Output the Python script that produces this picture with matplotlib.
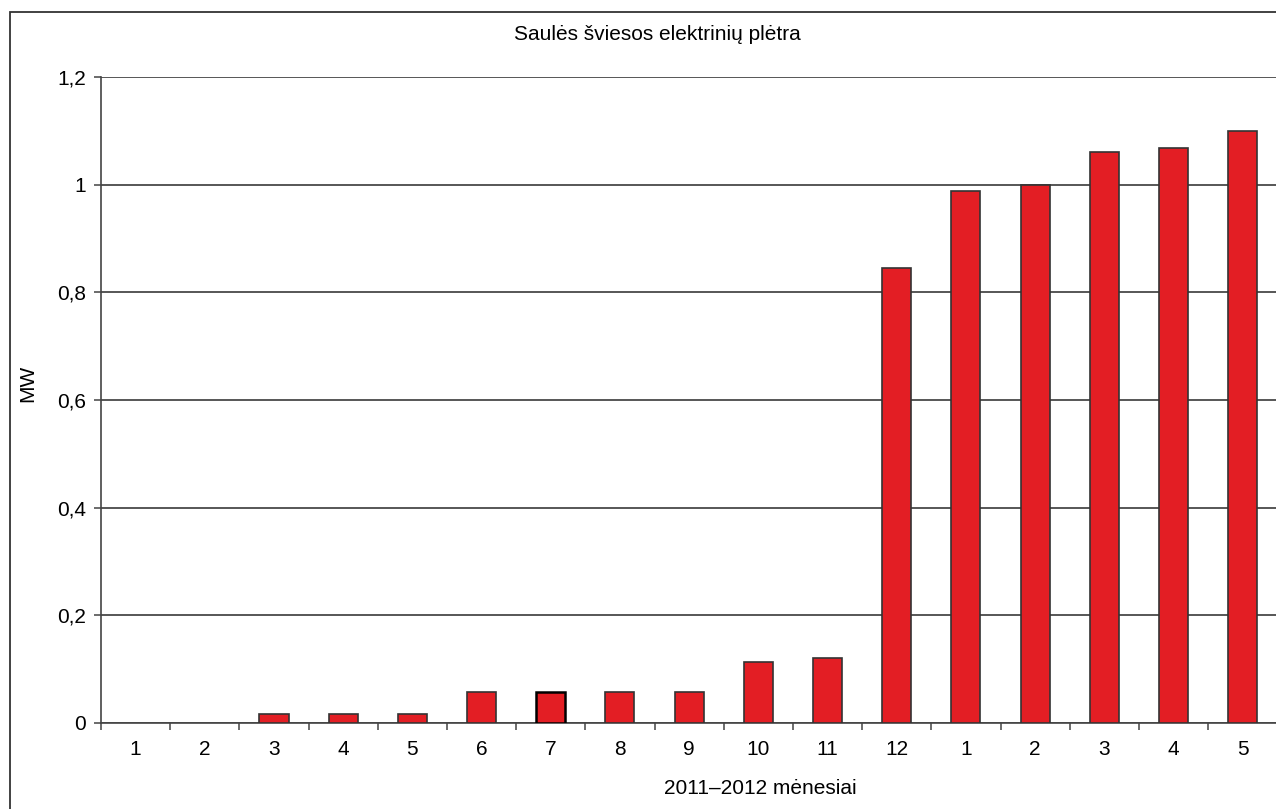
import matplotlib.pyplot as plt
from matplotlib.patches import Rectangle
from matplotlib.ticker import FuncFormatter
import numpy as np

plt.rcParams["font.family"] = ["Liberation Sans", "DejaVu Sans"]

months = ["1", "2", "3", "4", "5", "6", "7", "8", "9", "10", "11", "12",
          "1", "2", "3", "4", "5"]
capacity = [0.0, 0.0, 0.017, 0.017, 0.017, 0.057, 0.057, 0.057, 0.057,
            0.113, 0.120, 0.845, 0.989, 1.0, 1.060, 1.068, 1.100]

W, H = 1276, 809
fig = plt.figure(figsize=(W / 100, H / 100), dpi=100)

# outer frame, runs off the right and bottom edge
fig.patches.append(Rectangle((10 / W, -0.05), 1.2, 1 - 12 / H + 0.05,
                             transform=fig.transFigure, fill=False,
                             edgecolor="#333333", linewidth=1.3))

ax = fig.add_axes([101 / W, 1 - 723 / H, 1 - 101 / W + 0.001, (723 - 77) / H])

x = np.arange(len(months))
bars = ax.bar(x, capacity, width=0.42, color="#e31e24",
              edgecolor="#333333", linewidth=1.2, zorder=3)
for b, v in zip(bars, capacity):
    if v == 0:
        b.set_linewidth(0)
bars[6].set_edgecolor("black")
bars[6].set_linewidth(1.8)

ax.set_xlim(-0.5, len(months) - 0.5)
ax.set_ylim(0, 1.2)
ax.set_yticks(np.arange(0, 1.21, 0.2))
ax.yaxis.set_major_formatter(FuncFormatter(
    lambda v, p: "0" if abs(v) < 1e-9 else ("1" if abs(v - 1) < 1e-9 else f"{v:.1f}".replace(".", ","))))
ax.grid(axis="y", color="#3a3a3a", linewidth=1.2, zorder=0)

ax.set_xticks(x)
ax.set_xticklabels(months)
ax.set_xticks(np.arange(-0.5, len(months), 1), minor=True)
ax.tick_params(axis="x", which="major", length=0, pad=12, labelsize=15)
ax.tick_params(axis="x", which="minor", length=5, width=1.1, color="#444444")
ax.tick_params(axis="y", length=5, width=1.1, color="#444444", pad=6,
               labelsize=15)

for s in ["top", "right"]:
    ax.spines[s].set_visible(False)
for s in ["left", "bottom"]:
    ax.spines[s].set_color("#444444")
    ax.spines[s].set_linewidth(1.2)

fig.text(657 / W, 1 - 34 / H, "Saulės šviesos elektrinių plėtra",
         ha="center", va="center", fontsize=15)
fig.text(760 / W, 1 - 788 / H, "2011–2012 mėnesiai",
         ha="center", va="center", fontsize=15)
fig.text(28 / W, 1 - 383 / H, "MW", ha="center", va="center",
         rotation=90, fontsize=15)

fig.savefig("out.png", dpi=100)
